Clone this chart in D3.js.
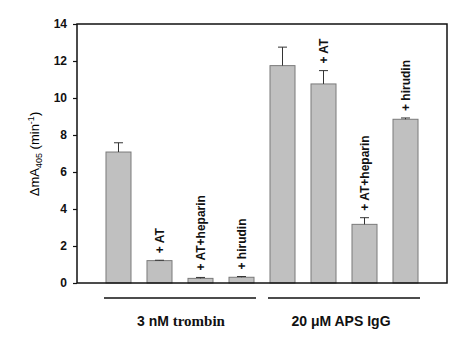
<!DOCTYPE html>
<html>
<head>
<meta charset="utf-8">
<script src="https://cdn.jsdelivr.net/npm/d3@7"></script>
<style>
  body{margin:0;background:#fff;}
  svg{display:block;font-family:Arial,"Liberation Sans",sans-serif;}
</style>
</head>
<body>
<div id="chart"></div>
<script>
// data
var conditions = ["thr","thr+AT","thr+AT+heparin","thr+hirudin","igg","igg+AT","igg+AT+heparin","igg+hirudin"];
var barLabels  = ["", "+ AT", "+ AT+heparin", "+ hirudin", "", "+ AT", "+ AT+heparin", "+ hirudin"];
var means      = [7.08, 1.21, 0.25, 0.31, 11.75, 10.76, 3.17, 8.85];
var errors     = [0.50, 0.02, 0.05, 0.04, 1.00, 0.72, 0.36, 0.07];
var groups     = [
  {first:0, last:3, name:"3 nM"},
  {first:4, last:7, name:"20 \u03bcM APS IgG"}
];
var yTicks = [0,2,4,6,8,10,12,14];

var W=473, H=352, L=77, T=24, R=447, B=283;
var svg=d3.select("#chart").append("svg").attr("width",W).attr("height",H);

var x=d3.scaleBand().domain(conditions).range([L,R]).paddingInner(0.39).paddingOuter(0.707);
var y=d3.scaleLinear().domain([0,14]).range([B,T]);

// bars
svg.selectAll("rect.bar").data(means).enter().append("rect").attr("class","bar")
  .attr("x",function(d,i){return x(conditions[i]);})
  .attr("y",function(d){return y(d);})
  .attr("width",x.bandwidth())
  .attr("height",function(d){return y(0)-y(d);})
  .attr("fill","#c0c0c0").attr("stroke","#7a7a7a").attr("stroke-width",1);

// error bars (upper only)
var cap=4.5;
var eb=svg.selectAll("g.err").data(means).enter().append("g").attr("class","err");
eb.append("line")
  .attr("x1",function(d,i){return x(conditions[i])+x.bandwidth()/2;})
  .attr("x2",function(d,i){return x(conditions[i])+x.bandwidth()/2;})
  .attr("y1",function(d){return y(d);})
  .attr("y2",function(d,i){return y(d+errors[i]);})
  .attr("stroke","#333").attr("stroke-width",1);
eb.append("line")
  .attr("x1",function(d,i){return x(conditions[i])+x.bandwidth()/2-cap;})
  .attr("x2",function(d,i){return x(conditions[i])+x.bandwidth()/2+cap;})
  .attr("y1",function(d,i){return y(d+errors[i]);})
  .attr("y2",function(d,i){return y(d+errors[i]);})
  .attr("stroke","#333").attr("stroke-width",1);

// rotated labels above bars
svg.selectAll("text.bl").data(means).enter().append("text").attr("class","bl")
  .attr("transform",function(d,i){
    var cx=x(conditions[i])+x.bandwidth()/2, cy=y(d+errors[i])-7;
    return "translate("+cx+","+cy+") rotate(-90)";})
  .attr("dy","0.36em").attr("text-anchor","start")
  .style("font-size","12px").style("font-weight","bold").attr("fill","#111")
  .text(function(d,i){return barLabels[i];});

// frame
svg.append("rect").attr("x",L).attr("y",T).attr("width",R-L).attr("height",B-T)
  .attr("fill","none").attr("stroke","#111").attr("stroke-width",1.5);

// y axis
var ya=svg.append("g").attr("transform","translate("+L+",0)")
  .call(d3.axisLeft(y).tickValues(yTicks).tickSize(4).tickPadding(6));
ya.select(".domain").remove();
ya.selectAll("line").attr("stroke","#111").attr("stroke-width",1.2);
ya.selectAll("text").style("font-size","12px").style("font-weight","bold")
  .style("font-family","Arial,'Liberation Sans',sans-serif").attr("fill","#111");

// y title
var yt=svg.append("text").attr("transform","translate(39,154) rotate(-90)")
  .attr("text-anchor","middle").style("font-size","13px").attr("fill","#000");
yt.append("tspan").text("\u0394mA");
yt.append("tspan").text("405").style("font-size","9px").attr("dy","3");
yt.append("tspan").text(" (min").style("font-size","13px").attr("dy","-3");
yt.append("tspan").text("-1").style("font-size","9px").attr("dy","-5");
yt.append("tspan").text(")").style("font-size","13px").attr("dy","5");

// group lines and labels
groups.forEach(function(g,i){
  var x0=x(conditions[g.first])-2, x1=x(conditions[g.last])+x.bandwidth()+2;
  svg.append("line").attr("x1",x0).attr("x2",x1).attr("y1",298).attr("y2",298)
    .attr("stroke","#111").attr("stroke-width",1.3);
  var t=svg.append("text").attr("x",(x0+x1)/2+(i?-3:1)).attr("y",326).attr("text-anchor","middle")
    .style("font-size","14px").style("font-weight","bold").attr("fill","#111");
  t.append("tspan").text(g.name);
  if(i===0){
    t.append("tspan").text(" trombin").style("font-family","'Liberation Serif',serif").style("font-size","15px");
  }
});
</script>
</body>
</html>
